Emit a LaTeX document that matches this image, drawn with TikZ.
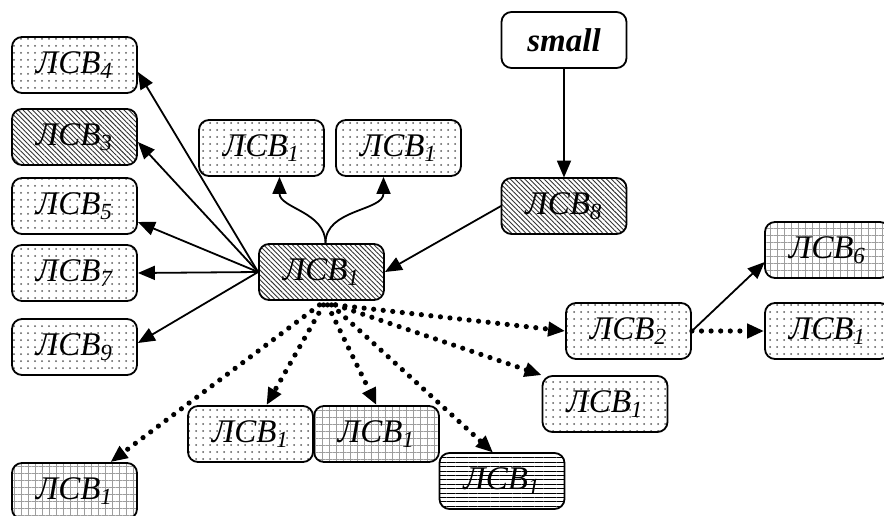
\documentclass[tikz,border=0pt]{standalone}
\usepackage{fontspec}
\setmainfont{Liberation Serif}
\usetikzlibrary{patterns,patterns.meta}
\usetikzlibrary{arrows.meta}
\usetikzlibrary{positioning}
\tikzset{lsv/.style={rectangle,rounded corners=5pt,draw=black,line width=0.9pt,
minimum width=62.5pt,minimum height=28pt,inner sep=0pt,
font=\fontsize{16.5}{16.5}\selectfont\itshape},
dotbox/.style={lsv,pattern={Dots[distance=3.5pt,radius=0.5pt]},pattern color=black!65},
hatchbox/.style={lsv,pattern={Lines[angle=-45,distance=1.7pt,line width=0.45pt]},pattern color=black!80},
gridbox/.style={lsv,pattern={Hatch[angle=0,distance=3.5pt,line width=0.25pt]},pattern color=black!38},
linebox/.style={lsv,pattern={Lines[angle=0,distance=2.2pt,line width=0.45pt]},pattern color=black},
srcbox/.style={lsv,fill=white,font=\fontsize{16.5}{16.5}\selectfont\bfseries\itshape},
dotline/.style={->,line width=2.6pt,dash pattern=on 0pt off 4.8pt,line cap=round},
>={Triangle[length=8.5pt,width=7pt]}}

\begin{document}
\begin{tikzpicture}[x=0.5pt,y=-0.5pt,line width=0.9pt]
  \clip (0,0) rectangle (884,515);
  % sources
  \node(small) [srcbox] at (564,40) {small};
  \node(L8) [hatchbox] at (564,206) {ЛСВ\textsubscript{8}};
  \node(C) [hatchbox] at (321.5,272) {ЛСВ\textsubscript{1}};
  % left column
  \node(L4) [dotbox] at (74.5,65) {ЛСВ\textsubscript{4}};
  \node(L3) [hatchbox] at (74.5,137) {ЛСВ\textsubscript{3}};
  \node(L5) [dotbox] at (74.5,206) {ЛСВ\textsubscript{5}};
  \node(L7) [dotbox] at (74.5,273) {ЛСВ\textsubscript{7}};
  \node(L9) [dotbox] at (74.5,347) {ЛСВ\textsubscript{9}};
  % top pair
  \node(T1) [dotbox] at (261.5,148) {ЛСВ\textsubscript{1}};
  \node(T2) [dotbox] at (398.5,148) {ЛСВ\textsubscript{1}};
  % right side
  \node(L2) [dotbox] at (628.5,331) {ЛСВ\textsubscript{2}};
  \node(L6) [gridbox] at (827.5,250) {ЛСВ\textsubscript{6}};
  \node(R1) [dotbox] at (827.5,331) {ЛСВ\textsubscript{1}};
  \node(P1) [dotbox] at (605,404) {ЛСВ\textsubscript{1}};
  % bottom row
  \node(D1) [dotbox] at (250.5,434) {ЛСВ\textsubscript{1}};
  \node(G1) [gridbox] at (376.5,434) {ЛСВ\textsubscript{1}};
  \node(H1) [linebox] at (502,481) {ЛСВ\textsubscript{1}};
  \node(BL) [gridbox] at (74.5,491) {ЛСВ\textsubscript{1}};

\draw
(small)
   edge [->]
(L8);
\draw
(L8.west)
   edge [->]
(C.east);
\draw
(C.west)
   edge [->]
([yshift=-3.5pt]L4.east);
\draw
(C.west)
   edge [->]
([yshift=-2.5pt]L3.east);
\draw
(C.west)
   edge [->]
([yshift=-8pt]L5.east);
\draw
(C.west)
   edge [->]
(L7.east);
\draw
(C.west)
   edge [->]
([yshift=2pt]L9.east);
\draw
([xshift=2pt]C.north)
   edge [->,out=90,in=-90]
([xshift=9pt]T1.south);
\draw
([xshift=2pt]C.north)
   edge [->,out=90,in=-90]
([xshift=-7.5pt]T2.south);
\draw
([xshift=-1pt,yshift=-2pt]C.south)
   edge [dotline]
([xshift=18pt]BL.north);
\draw
([xshift=1pt,yshift=-2pt]C.south)
   edge [dotline]
([xshift=8pt]D1.north);
\draw
([xshift=3pt,yshift=-2pt]C.south)
   edge [dotline]
(G1.north);
\draw
([xshift=5pt,yshift=-2pt]C.south)
   edge [dotline]
([xshift=-4.5pt]H1.north);
\draw
([xshift=7pt,yshift=-2pt]C.south)
   edge [dotline]
(P1.north west);
\draw
([xshift=7pt,yshift=-2pt]C.south)
   edge [dotline]
(L2.west);
\draw
(L2.east)
   edge [->]
([yshift=-6pt]L6.west);
\draw
(L2.east)
   edge [dotline]
(R1.west);
\end{tikzpicture}
\end{document}
